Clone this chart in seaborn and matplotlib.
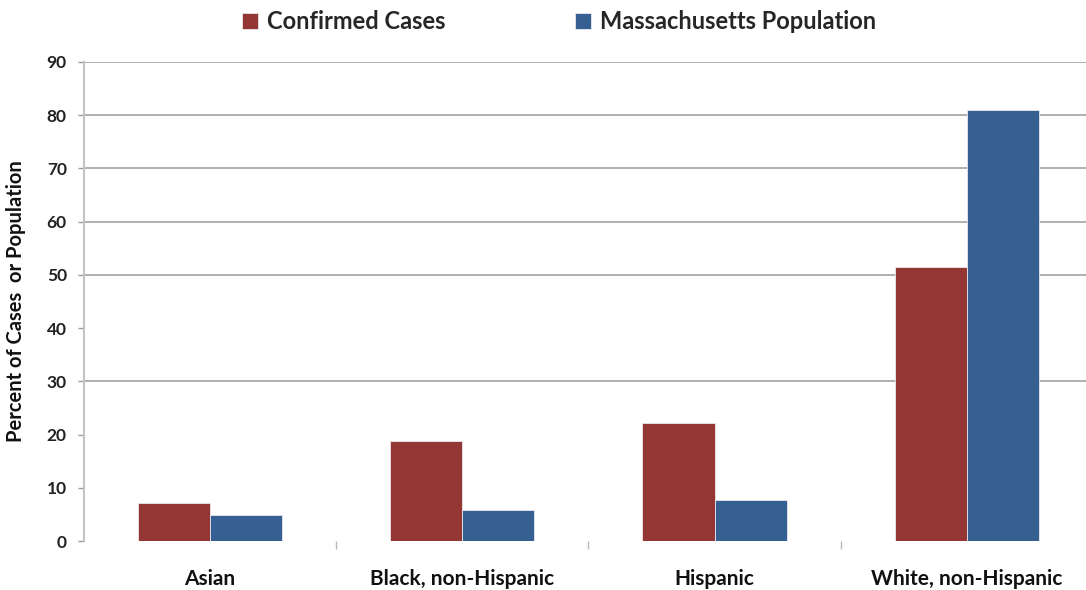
import matplotlib
matplotlib.use("Agg")
import matplotlib.pyplot as plt
import seaborn as sns
import pandas as pd

# Share of confirmed cases vs. share of state population, by race/ethnicity
groups = ["Asian", "Black, non-Hispanic", "Hispanic", "White, non-Hispanic"]
confirmed_cases = [7.2, 18.8, 22.1, 51.5]
ma_population = [4.9, 5.8, 7.7, 81.0]
series_names = ["Confirmed Cases", "Massachusetts Population"]
series_colors = ["#943634", "#366092"]
y_ticks = [0, 10, 20, 30, 40, 50, 60, 70, 80, 90]
grid_levels = [30, 50, 60, 70, 80, 90]

df = pd.DataFrame({
    "Group": groups * 2,
    "Percent": confirmed_cases + ma_population,
    "Series": [series_names[0]] * len(groups) + [series_names[1]] * len(groups),
})

sns.set_theme(style="white")
plt.rcParams["font.family"] = ["Lato", "DejaVu Sans"]
plt.rcParams["font.weight"] = "bold"

fig = plt.figure(figsize=(10.86, 5.90), dpi=100)
ax = fig.add_axes([0.0773, 0.083, 0.929, 0.812])

sns.barplot(data=df, x="Group", y="Percent", hue="Series", order=groups,
            hue_order=series_names, palette=series_colors, saturation=1,
            width=0.572, gap=0, edgecolor="#e8e8f0", linewidth=0.6, ax=ax,
            zorder=3)

ax.set_ylim(0, 90)
ax.set_xlim(-0.5, 3.5)
ax.set_yticks(y_ticks)
ax.set_yticklabels([str(t) for t in y_ticks], fontsize=12.5, fontweight="bold",
                   color="#222222")

# horizontal gridlines (with their outward ticks) only at selected levels
ax.yaxis.grid(True, color="#9a9a9a", linewidth=1.1)
ax.set_axisbelow(True)
for t, gl, tl in zip(y_ticks, ax.yaxis.get_gridlines(), ax.yaxis.get_major_ticks()):
    if t not in grid_levels:
        gl.set_visible(False)
        tl.tick1line.set_visible(False)
ax.tick_params(axis="y", which="major", length=4.3, width=1.0, color="#9a9a9a",
               pad=8, left=True)

# category labels, with separator ticks between categories
ax.set_xticks(range(len(groups)))
ax.set_xticklabels(groups, fontsize=15, fontweight="bold", color="#111111")
ax.tick_params(axis="x", which="major", length=0, pad=20)
ax.set_xticks([0.5, 1.5, 2.5], minor=True)
ax.tick_params(axis="x", which="minor", length=6, width=1.0, color="#b8b8b8",
               bottom=True)
ax.set_xlabel("")

ax.set_ylabel("Percent of Cases  or Population", fontsize=14.5,
              fontweight="bold", color="#111111")
ax.yaxis.set_label_coords(-0.057, 0.5)

for side in ["top", "right", "bottom"]:
    ax.spines[side].set_visible(False)
ax.spines["left"].set_color("#c4c4c4")
ax.spines["left"].set_linewidth(1.5)

handles, labels = ax.get_legend_handles_labels()
ax.get_legend().remove()
fig.legend(handles, labels, loc="center", bbox_to_anchor=(0.515, 0.963),
           ncol=2, frameon=False, handlelength=0.65, handleheight=0.65,
           handletextpad=0.4, columnspacing=5.5,
           prop={"size": 17, "weight": "bold"})

fig.savefig("out.png", dpi=100, facecolor="white")
